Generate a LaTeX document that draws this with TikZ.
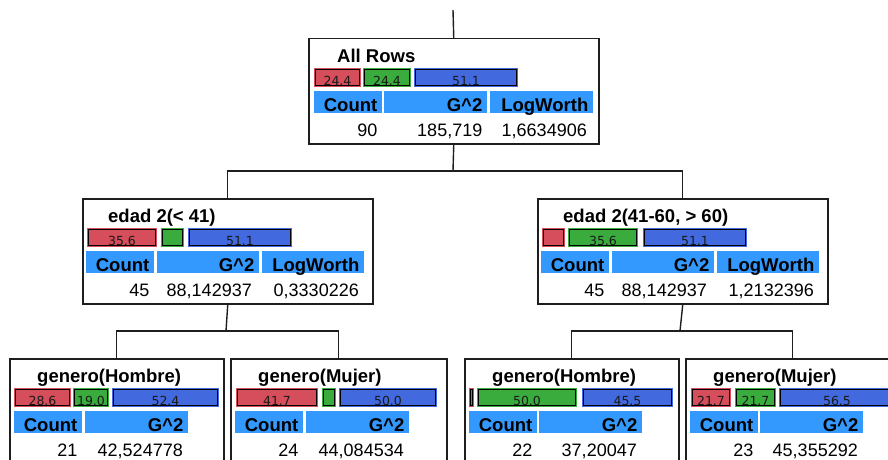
\documentclass[tikz,border=0pt]{standalone}
\usepackage{fontspec}
\setmainfont{Liberation Sans}
\newfontfamily\barfont{DejaVu Sans}

\definecolor{barred}{RGB}{214,78,92}
\definecolor{bargreen}{RGB}{58,172,62}
\definecolor{barblue}{RGB}{66,106,222}
\definecolor{headblue}{RGB}{51,153,255}
\definecolor{inkline}{RGB}{30,30,30}

\tikzset{
  splitbox/.style={draw=inkline, line width=1.5pt, rectangle, inner sep=0pt,
    anchor=north west, minimum width=#1},
  wire/.style={draw=inkline, line width=1.4pt},
  titletext/.style={anchor=base west, inner sep=0pt,
    font=\bfseries\fontsize{18.5}{20}\selectfont},
  headtext/.style={anchor=base east, inner sep=0pt,
    font=\bfseries\fontsize{18.5}{20}\selectfont},
  numtext/.style={anchor=base east, inner sep=0pt,
    font=\fontsize{18}{20}\selectfont},
  barlabel/.style={anchor=base, inner sep=0pt, text=black!90,
    font=\barfont\fontsize{12.5}{13}\selectfont},
}

% one coloured bar of a node: name, colour, left, right, label
\newcommand\barcell[5]{%
  \fill[#2] (#3,30) rectangle (#4,49);
  \draw[black, line width=1.1pt] (#3+1.3,31.3) rectangle (#4-1.3,47.7);
  \node[barlabel] (#1) at ({(#3+#4)/2},47.8) {#5};}

% one header cell: name, left, right, text
\newcommand\headcell[4]{%
  \fill[headblue] (#2,53) rectangle (#3,75);
  \node[headtext] (#1) at (#3-4.5,73) {#4};}

\begin{document}
\begin{tikzpicture}[x=1pt,y=-1pt]
\useasboundingbox (0,0) rectangle (888,460);
\clip (0,0) rectangle (888,460);
\fill[white] (0,0) rectangle (888,460);

% ---- boxes ----
\node[splitbox=290pt, minimum height=105pt] (root) at (308,38) {};
\node[splitbox=290pt, minimum height=105pt] (young) at (82,198) {};
\node[splitbox=290pt, minimum height=105pt] (older) at (537,198) {};
\node[splitbox=214pt, minimum height=120pt] (ym) at (9,358) {};
\node[splitbox=216pt, minimum height=120pt] (yf) at (230,358) {};
\node[splitbox=214pt, minimum height=120pt] (om) at (464,358) {};
\node[splitbox=214pt, minimum height=120pt] (of) at (685,358) {};

% ---- connectors ----
\coordinate (stem) at (453,10);
\coordinate (j0) at (453,171);
\coordinate (j1) at (226,331);
\coordinate (j2) at (680,331);
\draw[wire] (stem) -- (root.north);
\draw[wire] (root.south) -- (j0);
\draw[wire] (young.north) |- (j0) -| (older.north);
\draw[wire] (young.south) -- (j1);
\draw[wire] (ym.north) |- (j1) -| (yf.north);
\draw[wire] (older.south) -- (j2);
\draw[wire] (om.north) |- (j2) -| (of.north);

% ---- All Rows ----
\begin{scope}[shift={(308,38)}]
  \node[titletext] (rootT) at (29,24.5) {All Rows};
  \barcell{rootR}{barred}{6}{53}{24.4}
  \barcell{rootG}{bargreen}{55}{103}{24.4}
  \barcell{rootB}{barblue}{106}{210}{51.1}
  \headcell{rootH1}{6}{74}{Count}
  \headcell{rootH2}{76}{179}{G\textasciicircum 2}
  \headcell{rootH3}{182}{285}{LogWorth}
  \node[numtext] (rootN1) at (69.5,98) {90};
  \node[numtext] (rootN2) at (174.5,98) {185,719};
  \node[numtext] (rootN3) at (279,98) {1,6634906};
\end{scope}

% ---- edad 2(< 41) ----
\begin{scope}[shift={(82,198)}]
  \node[titletext] (youngT) at (26,24.5) {edad 2(< 41)};
  \barcell{youngR}{barred}{5}{75}{35.6}
  \barcell{youngG}{bargreen}{79}{102}{}
  \barcell{youngB}{barblue}{106}{210}{51.1}
  \headcell{youngH1}{4}{72}{Count}
  \headcell{youngH2}{75}{177}{G\textasciicircum 2}
  \headcell{youngH3}{180}{282}{LogWorth}
  \node[numtext] (youngN1) at (67.5,98) {45};
  \node[numtext] (youngN2) at (170,98) {88,142937};
  \node[numtext] (youngN3) at (277,98) {0,3330226};
\end{scope}

% ---- edad 2(41-60, > 60) ----
\begin{scope}[shift={(537,198)}]
  \node[titletext] (olderT) at (26,24.5) {edad 2(41-60, > 60)};
  \barcell{olderR}{barred}{5}{28}{}
  \barcell{olderG}{bargreen}{31}{101}{35.6}
  \barcell{olderB}{barblue}{106}{210}{51.1}
  \headcell{olderH1}{4}{72}{Count}
  \headcell{olderH2}{75}{177}{G\textasciicircum 2}
  \headcell{olderH3}{180}{282}{LogWorth}
  \node[numtext] (olderN1) at (67.5,98) {45};
  \node[numtext] (olderN2) at (170,98) {88,142937};
  \node[numtext] (olderN3) at (277,98) {1,2132396};
\end{scope}

% ---- genero(Hombre), edad < 41 ----
\begin{scope}[shift={(9,358)}]
  \node[titletext] (ymT) at (28,24.5) {genero(Hombre)};
  \barcell{ymR}{barred}{5}{62}{28.6}
  \barcell{ymG}{bargreen}{64}{100}{19.0}
  \barcell{ymB}{barblue}{103}{210}{52.4}
  \headcell{ymH1}{5}{73}{Count}
  \headcell{ymH2}{76}{179}{G\textasciicircum 2}
  \node[numtext] (ymN1) at (68.5,98) {21};
  \node[numtext] (ymN2) at (174,98) {42,524778};
\end{scope}

% ---- genero(Mujer), edad < 41 ----
\begin{scope}[shift={(230,358)}]
  \node[titletext] (yfT) at (28,24.5) {genero(Mujer)};
  \barcell{yfR}{barred}{6}{88}{41.7}
  \barcell{yfG}{bargreen}{92}{106}{}
  \barcell{yfB}{barblue}{109}{207}{50.0}
  \headcell{yfH1}{5}{73}{Count}
  \headcell{yfH2}{76}{179}{G\textasciicircum 2}
  \node[numtext] (yfN1) at (68.5,98) {24};
  \node[numtext] (yfN2) at (174,98) {44,084534};
\end{scope}

% ---- genero(Hombre), edad 41-60, > 60 ----
\begin{scope}[shift={(464,358)}]
  \node[titletext] (omT) at (28,24.5) {genero(Hombre)};
  \barcell{omR}{barred}{5}{9.5}{}
  \barcell{omG}{bargreen}{13}{113}{50.0}
  \barcell{omB}{barblue}{118}{209}{45.5}
  \headcell{omH1}{5}{73}{Count}
  \headcell{omH2}{75}{178}{G\textasciicircum 2}
  \node[numtext] (omN1) at (68.5,98) {22};
  \node[numtext] (omN2) at (173,98) {37,20047};
\end{scope}

% ---- genero(Mujer), edad 41-60, > 60 ----
\begin{scope}[shift={(685,358)}]
  \node[titletext] (ofT) at (28,24.5) {genero(Mujer)};
  \barcell{ofR}{barred}{6}{46}{21.7}
  \barcell{ofG}{bargreen}{50}{91}{21.7}
  \barcell{ofB}{barblue}{94}{210}{56.5}
  \headcell{ofH1}{5}{73}{Count}
  \headcell{ofH2}{75}{178}{G\textasciicircum 2}
  \node[numtext] (ofN1) at (68.5,98) {23};
  \node[numtext] (ofN2) at (173,98) {45,355292};
\end{scope}
\end{tikzpicture}
\end{document}
